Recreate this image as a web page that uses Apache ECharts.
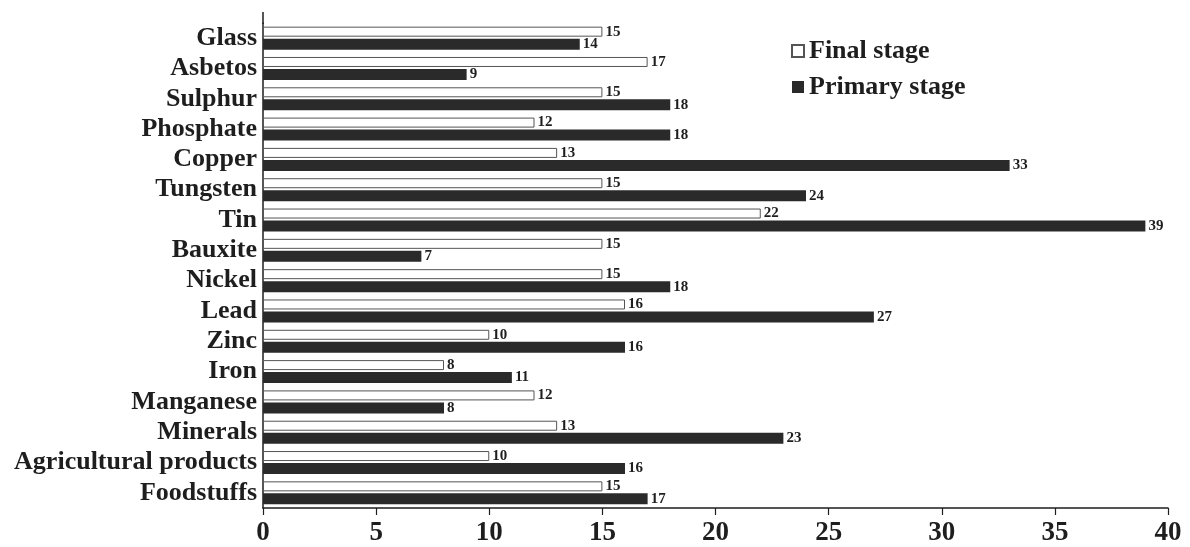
<!DOCTYPE html>
<html>
<head>
<meta charset="utf-8">
<script src="https://cdn.jsdelivr.net/npm/echarts@6/dist/echarts.min.js"></script>
<style>
html,body{margin:0;padding:0;background:#fff;}
#main{width:1190px;height:547px;}
</style>
</head>
<body>
<div id="main"></div>
<script>
const categories = ["Glass","Asbetos","Sulphur","Phosphate","Copper","Tungsten","Tin","Bauxite","Nickel","Lead","Zinc","Iron","Manganese","Minerals","Agricultural products","Foodstuffs"];
const finalStage = [15,17,15,12,13,15,22,15,15,16,10,8,12,13,10,15];
const primaryStage = [14,9,18,18,33,24,39,7,18,27,16,11,8,23,16,17];
const xTicks = [0,5,10,15,20,25,30,35,40];

const FONT = '"Liberation Serif","Times New Roman",serif';
const INK = '#1e1e1e';

const chart = echarts.init(document.getElementById('main'), null, {renderer:'canvas'});
const labelCfg = {
  show: true, position: 'right', distance: 3,
  fontFamily: FONT, fontWeight: 'bold', fontSize: 15, color: INK
};
chart.setOption({
  animation: false,
  backgroundColor: '#fff',
  grid: {left: 263, right: 22, top: 23, bottom: 38, containLabel: false},
  legend: {
    orient: 'vertical', left: 786, top: 33,
    itemWidth: 12, itemHeight: 12, itemGap: 10,
    icon: 'rect',
    textStyle: {fontFamily: FONT, fontWeight: 'bold', fontSize: 26, color: INK},
    data: ['Final stage', 'Primary stage']
  },
  xAxis: {
    type: 'value', min: 0, max: 40, interval: 5,
    axisLine: {show: true, lineStyle: {color: INK, width: 1.5}},
    axisTick: {show: true, length: 7, lineStyle: {color: INK, width: 1.2}},
    splitLine: {show: false},
    axisLabel: {
      margin: 12, fontFamily: FONT, fontWeight: 'bold', fontSize: 27, color: INK,
      formatter: v => xTicks.includes(v) ? String(v) : ''
    }
  },
  yAxis: {
    type: 'category', data: categories, inverse: true,
    axisLine: {show: true, lineStyle: {color: INK, width: 1.5}},
    axisTick: {show: false},
    axisLabel: {interval: 0, margin: 6, padding: [6, 0, 0, 0], fontFamily: FONT, fontWeight: 'bold', fontSize: 26, color: INK}
  },
  series: [
    {
      name: 'Final stage', type: 'bar', data: finalStage,
      barWidth: 10, barGap: '20%',
      itemStyle: {color: '#ffffff', borderColor: '#555', borderWidth: 1},
      label: labelCfg
    },
    {
      name: 'Primary stage', type: 'bar', data: primaryStage,
      barWidth: 11,
      itemStyle: {color: '#2a2a2a'},
      label: labelCfg
    }
  ],
  graphic: [{
    type: 'line', shape: {x1: 263, y1: 12, x2: 263, y2: 24},
    style: {stroke: INK, lineWidth: 1.5}
  }]
});
</script>
</body>
</html>
